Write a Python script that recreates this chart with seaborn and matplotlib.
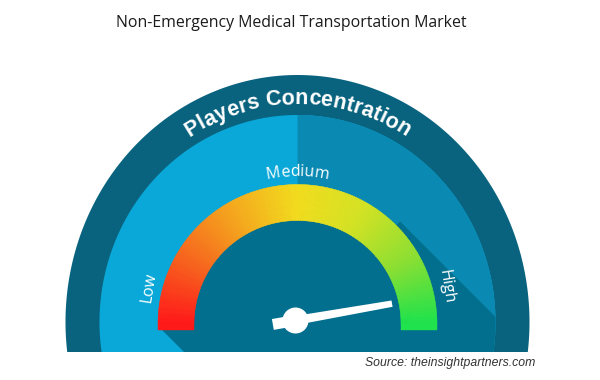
import numpy as np
import matplotlib
matplotlib.use("Agg")
import matplotlib.pyplot as plt
from matplotlib.patches import Polygon, Wedge, Circle, Rectangle
from matplotlib.font_manager import FontProperties
import seaborn as sns

# ---------------- data ----------------
title = "Non-Emergency Medical Transportation Market"
band_label = "Players Concentration"
categories = ["Low", "Medium", "High"]
category_angles = [166, 90, 14]          # position of each label on the dial (deg)
needle_value = 0.945                     # share of the dial (0 = Low, 1 = High)
source = "Source: theinsightpartners.com"
gauge_colors = ["#ff1a1a", "#f7661e", "#f5a81e", "#f2dc1e",
                "#d4e224", "#8edf32", "#20e24c"]

# ---------------- style ----------------
W, H = 600, 380
sns.set_theme(style="white")
plt.rcParams["font.family"] = ["Open Sans", "DejaVu Sans"]

ring_color = "#09637f"
left_color = "#0aa8d8"
right_color = "#0a8ab3"
dark_color = "#036f8e"

fig = plt.figure(figsize=(6, 3.8), dpi=100)
ax = fig.add_axes([0, 0, 1, 1])
ax.set_xlim(0, W)
ax.set_ylim(0, H)
ax.set_axis_off()
renderer = fig.canvas.get_renderer()


def Y(y):
    return H - y


cx = 297.5
ecy = Y(322)
gcy = Y(324)
clip_y = Y(352)
bar_y = Y(330)


def ellipse_pts(a, b, cyy, t0, t1, n=400):
    t = np.linspace(t0, t1, n)
    return np.column_stack([cx + a * np.cos(t), cyy + b * np.sin(t)])


def clipped_disk(a, b, cyy, right_only=False):
    s = np.arcsin(np.clip((cyy - clip_y) / b, -1, 1))
    if right_only:
        pts = ellipse_pts(a, b, cyy, -s, np.pi / 2)
        pts = np.vstack([pts, [[cx, clip_y]]])
    else:
        pts = ellipse_pts(a, b, cyy, -s, np.pi + s)
    return pts


# outer ring
ax.add_patch(Polygon(clipped_disk(232, 247, ecy), closed=True, fc=ring_color, ec="none"))
# inner disk halves
inner = Polygon(clipped_disk(198, 207, ecy), closed=True, fc=left_color, ec="none")
ax.add_patch(inner)
ax.add_patch(Polygon(clipped_disk(198, 207, ecy, right_only=True), closed=True,
                     fc=right_color, ec="none"))

# long shadow
R_out, R_in = 139.5, 103.5
Rs = 145
T = np.array([cx + Rs * np.cos(np.pi / 4), gcy + Rs * np.sin(np.pi / 4)])
B = np.array([cx - R_out + 4, bar_y])
L = 400
d = np.array([1, -1])
shadow = Polygon([T, T + L * d, B + L * d, B, [cx, gcy]], closed=True,
                 fc=dark_color, ec="none")
ax.add_patch(shadow)
shadow.set_clip_path(inner)
tt = np.linspace(0, np.pi, 200)
half = np.column_stack([cx + 138 * np.cos(tt), gcy + 138 * np.sin(tt)])
half = np.vstack([half, [[cx - 138, bar_y], [cx + 138, bar_y]]])
ax.add_patch(Polygon(half, closed=True, fc=dark_color, ec="none"))

# gradient arc
N = 180
pal = sns.blend_palette(gauge_colors, n_colors=N)
step = 180 / N
for i, col in enumerate(pal):
    th2 = 180 - i * step
    th1 = th2 - step
    ax.add_patch(Wedge((cx, gcy), R_out, th1 - 0.3, th2, width=R_out - R_in,
                       fc=col, ec=col, lw=0.3))
ax.add_patch(Rectangle((cx - R_out, bar_y), R_out - R_in, gcy - bar_y + 0.5,
                       fc=pal[0], ec=pal[0], lw=0.3))
ax.add_patch(Rectangle((cx + R_in, bar_y), R_out - R_in, gcy - bar_y + 0.5,
                       fc=pal[-1], ec=pal[-1], lw=0.3))


# curved text
def text_width(s, fp):
    w, h, dsc = renderer.get_text_width_height_descent(s, fp, ismath=False)
    return w


def curved_text(text, a, b, cyy, center_deg, fp, color="white"):
    bar_w = text_width("|", fp)
    adv = [0.0] + [text_width(text[:i] + "|", fp) - bar_w for i in range(1, len(text) + 1)]
    total = adv[-1]
    ts = np.linspace(np.radians(center_deg) - np.pi, np.radians(center_deg) + np.pi, 4000)
    px = cx + a * np.cos(ts)
    py = cyy + b * np.sin(ts)
    seg = np.hypot(np.diff(px), np.diff(py))
    Ls = np.concatenate([[0], np.cumsum(seg)])
    Lc = np.interp(np.radians(center_deg), ts, Ls)
    for i, ch in enumerate(text):
        if ch == " ":
            continue
        s = (adv[i] + adv[i + 1]) / 2 - total / 2
        t = np.interp(Lc - s, Ls, ts)
        x = cx + a * np.cos(t)
        y = cyy + b * np.sin(t)
        rot = np.degrees(np.arctan2(-b * np.cos(t), a * np.sin(t)))
        ax.text(x, y, ch, fontproperties=fp, color=color, rotation=rot,
                rotation_mode="anchor", ha="center", va="baseline")


band_fp = FontProperties(family="Liberation Sans", weight="bold", size=15.5)
curved_text(band_label, 204, 218, ecy, 90, band_fp)

lab_fp = FontProperties(family="Open Sans", size=11.5)
label_r = 153
for lab, ang in zip(categories, category_angles):
    if ang == 90:
        curved_text(lab, 148, 148, gcy, ang, lab_fp)
    else:
        a = np.radians(ang)
        x = cx + label_r * np.cos(a)
        y = gcy + label_r * np.sin(a)
        rot = 81 if ang > 90 else -81
        ax.text(x, y, lab, fontproperties=lab_fp, color="white", rotation=rot,
                rotation_mode="anchor", ha="center", va="center")

# needle
phi = np.radians(180 * (1 - needle_value))
hub = np.array([295.5, Y(320.5)])
dv = np.array([np.cos(phi), np.sin(phi)])
nv = np.array([-np.sin(phi), np.cos(phi)])
tip = hub + 98 * dv
ax.add_patch(Polygon([hub + 4.5 * nv, tip + 3.2 * nv, tip - 3.2 * nv, hub - 4.5 * nv],
                     closed=True, fc="white", ec="none"))
back = hub - 23 * dv
ax.add_patch(Polygon([hub + 5.5 * nv, back + 5.5 * nv, back - 5.5 * nv, hub - 5.5 * nv],
                     closed=True, fc="white", ec="none"))
ax.add_patch(Circle(hub, 13, fc="white", ec="none"))

# titles
ax.text(291, Y(23), title, ha="center", va="center", fontsize=11.4,
        family="Open Sans", color="#1a1a1a")
ax.text(535, Y(363), source, ha="right", va="center", fontsize=8.8,
        family="Liberation Sans", style="italic", color="#333333")

fig.savefig("out.png", dpi=100)
